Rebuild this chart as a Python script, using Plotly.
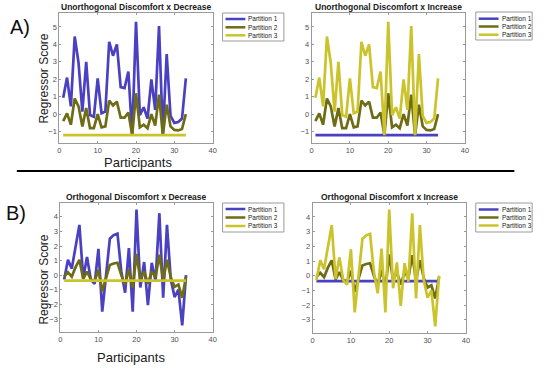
import plotly.graph_objects as go

participants = list(range(1, 34))

# Unorthogonal: varying series
unorth_main = [0.95, 2.1, 0.45, 4.45, 2.95, 0.15, 3.0, -0.05, -0.15, 2.05, 0.05, 0.15, 4.15, 3.35, 4.0,
               1.55, 1.5, 2.45, -1.2, 5.3, -0.05, 0.4, -0.25, 2.0, 0.25, 5.05, -1.2, 3.45, -0.1, -0.5,
               -0.45, -0.25, 2.05]
unorth_p2 = [-0.4, 0.05, -0.6, 0.9, 0.45, -0.7, 0.35, -0.8, -0.8, 0.0, -0.75, -0.7, 0.78, 0.5, 0.72,
             -0.2, -0.2, 0.1, -1.2, 1.2, -0.75, -0.6, -0.8, 0.0, -0.65, 1.12, -1.2, 0.55, -0.7, -0.9,
             -0.93, -0.85, 0.0]
unorth_const = [-1.2] * 33

orth_main = [-0.3, 1.05, 0.45, 2.0, 3.45, -0.2, 1.25, -0.3, -0.6, 1.8, -2.5, 0.0, 2.5, 2.75, 2.85,
             0.25, -1.2, 1.85, -2.5, 4.5, -0.85, 0.9, -2.05, 0.85, -0.4, 4.25, -1.55, 3.45, -0.3, -1.5,
             -1.0, -3.45, 0.0]
orth_p2 = [-0.1, 0.2, -0.1, 0.55, 1.05, -0.25, 0.25, -0.3, -0.4, 0.35, -1.1, -0.15, 0.7, 0.8, 0.85,
           0.0, -0.65, 0.4, -0.85, 1.45, -0.3, 0.25, -0.6, 0.25, -0.15, 1.4, -0.35, 1.05, -0.15, -0.8,
           -0.65, -1.55, -0.1]
orth_const = [-0.37] * 33

titles = ["Unorthogonal Discomfort x Decrease", "Unorthogonal Discomfort x Increase",
          "Orthogonal Discomfort x Decrease", "Orthogonal Discomfort x Increase"]
partition_names = ["Partition 1", "Partition 2", "Partition 3"]
colors = ["#4A40C2", "#6E6C14", "#CBC32C"]

panels = [
    (unorth_main, unorth_p2, unorth_const),   # Decrease
    (unorth_const, unorth_p2, unorth_main),   # Increase
    (orth_main, orth_p2, orth_const),
    (orth_const, orth_p2, orth_main),
]

W, H = 550, 368
def PX(x):
    return x / W
def PY(y):
    return 1 - y / H
def px_x(a, b):
    return [PX(a), PX(b)]
def px_y(top, bottom):
    return [PY(bottom), PY(top)]

xdoms = [px_x(58, 213), px_x(313, 468), px_x(59, 213), px_x(314, 469)]
ydoms = [px_y(13, 143), px_y(13, 143), px_y(203, 332), px_y(203, 333)]
yranges = [[-1.65, 5.8], [-1.65, 5.8], [-3.9, 4.95], [-3.9, 4.95]]
yticks = [list(range(-1, 6)), list(range(-1, 6)), list(range(-3, 5)), list(range(-3, 5))]
# legend boxes: (left, top, right, bottom, row y's)
legend_boxes = [
    (223, 13, 285, 41, [19, 27.3, 35.3]),
    (479, 12, 536, 40, [18.7, 26.5, 34.7]),
    (223, 203, 285, 232, [209, 217.5, 226]),
    (479, 203, 536, 232, [209.5, 217.5, 225.5]),
]

fig = go.Figure()
layout = dict(width=W, height=H, margin=dict(l=0, r=0, t=0, b=0),
              paper_bgcolor="white", plot_bgcolor="white", showlegend=False,
              font=dict(family="Liberation Sans, Arial", color="#404040"))
annotations = []
shapes = []
for i, series in enumerate(panels):
    sfx = "" if i == 0 else str(i + 1)
    for j, vals in enumerate(series):
        fig.add_trace(go.Scatter(x=participants, y=vals, mode="lines", name=partition_names[j],
                                 line=dict(color=colors[j], width=2.7),
                                 xaxis="x" + sfx, yaxis="y" + sfx))
    axstyle = dict(showline=True, linecolor="#9a9a9a", linewidth=1, mirror="ticks",
                   ticks="inside", ticklen=2, tickcolor="#9a9a9a", showgrid=False, zeroline=False,
                   tickfont=dict(size=7.5, color="#505050"))
    layout["xaxis" + sfx] = dict(domain=xdoms[i], range=[0, 40], tickvals=[0, 10, 20, 30, 40],
                                 anchor="y" + sfx, **axstyle)
    layout["yaxis" + sfx] = dict(domain=ydoms[i], range=yranges[i], tickvals=yticks[i],
                                 anchor="x" + sfx, **axstyle)
    # title
    cx = (xdoms[i][0] + xdoms[i][1]) / 2
    annotations.append(dict(text="<b>" + titles[i] + "</b>", x=cx, y=ydoms[i][1], xref="paper",
                            yref="paper", xanchor="center", yanchor="bottom", showarrow=False,
                            yshift=-1, font=dict(size=8.5, color="#202020")))
    # legend (drawn as box + sample lines + labels)
    l, t, r, b, rows = legend_boxes[i]
    shapes.append(dict(type="rect", xref="paper", yref="paper", x0=PX(l), x1=PX(r),
                       y0=PY(b), y1=PY(t), line=dict(color="#9a9a9a", width=1),
                       fillcolor="white"))
    for j, ry in enumerate(rows):
        shapes.append(dict(type="line", xref="paper", yref="paper", x0=PX(l + 3), x1=PX(l + 23),
                           y0=PY(ry), y1=PY(ry), line=dict(color=colors[j], width=2.5)))
        annotations.append(dict(text=partition_names[j], x=PX(l + 24), y=PY(ry), xref="paper",
                                yref="paper", xanchor="left", yanchor="middle", showarrow=False,
                                font=dict(size=6.5, color="#202020")))

# axis labels
annotations += [
    dict(text="Participants", x=PX(137), y=PY(162), xref="paper", yref="paper",
         xanchor="center", yanchor="middle", showarrow=False, font=dict(size=13, color="#202020")),
    dict(text="Participants", x=PX(130), y=PY(357), xref="paper", yref="paper",
         xanchor="center", yanchor="middle", showarrow=False, font=dict(size=13, color="#202020")),
    dict(text="Regressor Score", x=PX(42), y=PY(79), xref="paper", yref="paper",
         xanchor="center", yanchor="middle", showarrow=False, textangle=-90,
         font=dict(size=12, color="#202020")),
    dict(text="Regressor Score", x=PX(42), y=PY(280), xref="paper", yref="paper",
         xanchor="center", yanchor="middle", showarrow=False, textangle=-90,
         font=dict(size=12, color="#202020")),
    dict(text="A)", x=PX(18), y=PY(27), xref="paper", yref="paper", xanchor="center",
         yanchor="middle", showarrow=False, font=dict(size=20, color="#101010")),
    dict(text="B)", x=PX(14), y=PY(213), xref="paper", yref="paper", xanchor="center",
         yanchor="middle", showarrow=False, font=dict(size=20, color="#101010")),
]
shapes.append(dict(type="line", xref="paper", yref="paper", x0=PX(15), x1=PX(518),
                   y0=PY(171), y1=PY(171), line=dict(color="black", width=2.2)))
layout["annotations"] = annotations
layout["shapes"] = shapes
fig.update_layout(**layout)
fig.write_html("out.html", config={"displayModeBar": False},
               post_script="document.body.style.margin='0';")
